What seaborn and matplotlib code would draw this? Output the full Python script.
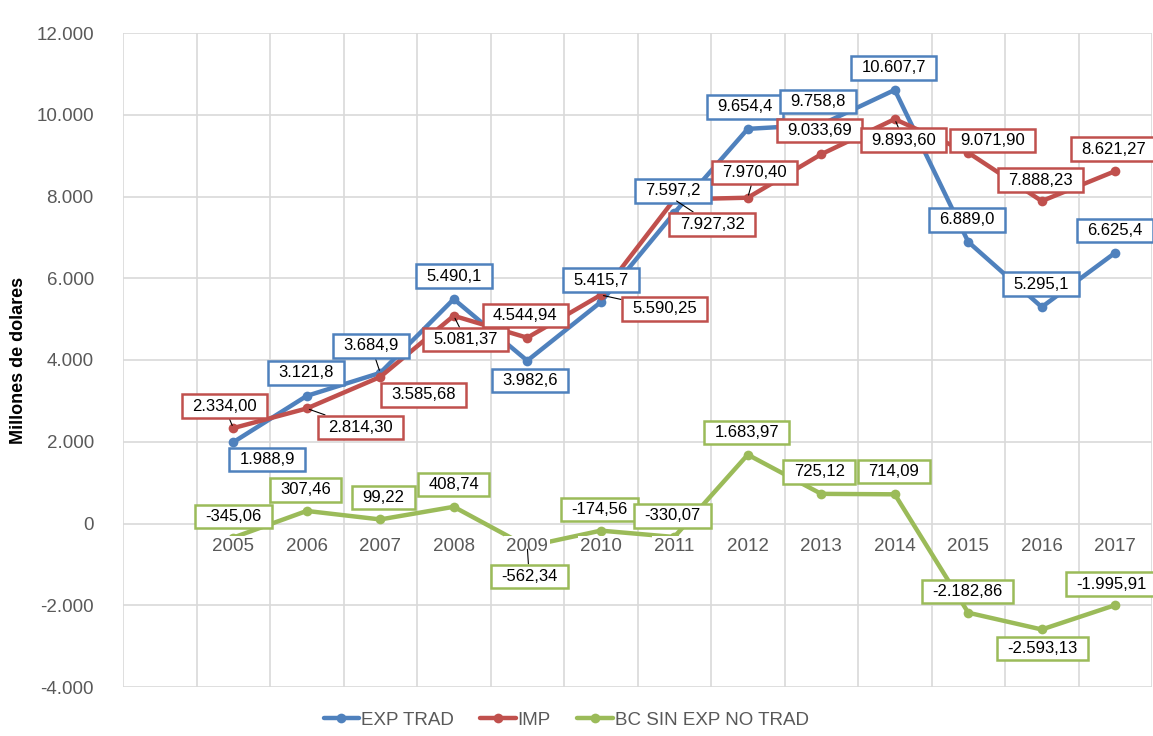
import matplotlib
matplotlib.use("Agg")
import numpy as np
import pandas as pd
import seaborn as sns
import matplotlib.pyplot as plt
from matplotlib.path import Path
from matplotlib.lines import Line2D

# ---------------- data ----------------
years = ['2005', '2006', '2007', '2008', '2009', '2010', '2011',
         '2012', '2013', '2014', '2015', '2016', '2017']
exp_trad = [1988.9, 3121.8, 3684.9, 5490.1, 3982.6, 5415.7, 7597.2,
            9654.4, 9758.8, 10607.7, 6889.0, 5295.1, 6625.4]
imp = [2334.00, 2814.30, 3585.68, 5081.37, 4544.94, 5590.25, 7927.32,
       7970.40, 9033.69, 9893.60, 9071.90, 7888.23, 8621.27]
bc_sin_exp = [-345.06, 307.46, 99.22, 408.74, -562.34, -174.56, -330.07,
              1683.97, 725.12, 714.09, -2182.86, -2593.13, -1995.91]
series_names = ['EXP TRAD', 'IMP', 'BC SIN EXP NO TRAD']
y_ticks = [-4000, -2000, 0, 2000, 4000, 6000, 8000, 10000, 12000]
y_label = 'Millones de dolares'

# ---------------- style ----------------
colors = {'EXP TRAD': '#4F81BD', 'IMP': '#C0504D', 'BC SIN EXP NO TRAD': '#9BBB59'}
decimals = {'EXP TRAD': 1, 'IMP': 2, 'BC SIN EXP NO TRAD': 2}
# label offsets in pixels (dx, dy) from each point
offsets = {
    'EXP TRAD': [(34, -17), (-1, 23), (-9, 27), (0, 23), (3, -20), (0, 22), (-1, 22),
                 (-3, 22), (-3, 23), (-1, 22), (-1, 22), (-1, 23), (0, 22)],
    'IMP': [(-9, 22), (54, -19), (43, -18), (12, -24), (-2, 22), (64, -14), (38, -25),
            (7, 25), (-2, 24), (9, -21), (24, 12), (-1, 21), (-2, 22)],
    'BC SIN EXP NO TRAD': [(0, 21), (-1, 21), (3, 22), (0, 22), (2, -30), (-1, 21), (-2, 21),
                           (-1, 22), (-2, 22), (-1, 23), (-1, 21), (1, -19), (-4, 21)],
}
leaders = {
    'EXP TRAD': [0, 0, 1, 0, 0, 0, 0, 0, 0, 0, 0, 0, 0],
    'IMP': [1, 1, 0, 1, 0, 1, 1, 1, 0, 1, 0, 0, 0],
    'BC SIN EXP NO TRAD': [0, 0, 0, 0, 1, 0, 0, 0, 0, 0, 0, 0, 0],
}

sns.set_style('white')
plt.rcParams['font.family'] = ['Liberation Sans', 'DejaVu Sans']

W, H = 1153, 736
fig = plt.figure(figsize=(W / 100, H / 100), dpi=100)
ax = fig.add_axes([123 / W, (H - 687) / H, (1152 - 123) / W, (687 - 33) / H])

x_pos = np.arange(1, len(years) + 1)
df = pd.DataFrame({'pos': x_pos, 'EXP TRAD': exp_trad, 'IMP': imp,
                   'BC SIN EXP NO TRAD': bc_sin_exp})
long = df.melt(id_vars='pos', var_name='serie', value_name='valor')

sns.lineplot(data=long, x='pos', y='valor', hue='serie', hue_order=series_names,
             palette=colors, marker='o', markersize=7, markeredgewidth=0,
             linewidth=3.2, sort=False, legend=False, ax=ax, zorder=2)

ax.set_xlim(-0.5, len(years) + 0.5)
ax.set_ylim(y_ticks[0], y_ticks[-1])

grid_c = '#D9D9D9'
ax.set_axisbelow(True)
ax.yaxis.grid(True, color=grid_c, linewidth=1.2)
ax.xaxis.grid(False)
ax.vlines(np.arange(-0.5, len(years) + 1), y_ticks[0], y_ticks[-1],
          colors=grid_c, linewidth=1.2, zorder=0.6)

for s in ax.spines.values():
    s.set_visible(False)
ax.spines['bottom'].set_position(('data', 0))

def fmt_num(v, d=0):
    s = f"{v:,.{d}f}"
    return s.replace(',', '#').replace('.', ',').replace('#', '.')

ax.set_yticks(y_ticks)
ax.set_yticklabels([fmt_num(v) for v in y_ticks])
ax.set_xticks(x_pos)
ax.set_xticklabels(years)
ax.tick_params(axis='y', length=0, pad=21, labelsize=13.5, labelcolor='#595959')
ax.tick_params(axis='x', length=0, pad=10.5, labelsize=13.5, labelcolor='#595959')
for lab in ax.get_xticklabels():
    lab.set_bbox(dict(facecolor='white', edgecolor='none', pad=1.5))
ax.xaxis.set_zorder(2.5)

ax.set_xlabel('')
ax.set_ylabel(y_label, fontsize=13, color='black', fontweight='bold')
ax.yaxis.set_label_coords((27 - 123) / (1152 - 123), 0.5)


def excel_box(x0, y0, width, height, mutation_size):
    padx = 0.62 * mutation_size
    pady = 0.25 * mutation_size
    x0 -= padx
    y0 -= pady
    x1 = x0 + width + 2 * padx
    y1 = y0 + height + 2 * pady
    return Path([(x0, y0), (x1, y0), (x1, y1), (x0, y1), (x0, y0)], closed=True)


data = {'EXP TRAD': exp_trad, 'IMP': imp, 'BC SIN EXP NO TRAD': bc_sin_exp}
for name in series_names:
    vals = data[name]
    for i, v in enumerate(vals):
        dx, dy = offsets[name][i]
        kw = {}
        if leaders[name][i]:
            kw['arrowprops'] = dict(arrowstyle='-', color='black', lw=0.8,
                                    shrinkA=0, shrinkB=2)
        ax.annotate(fmt_num(v, decimals[name]), xy=(x_pos[i], v), xytext=(dx, dy),
                    textcoords='offset pixels', ha='center', va='center',
                    fontsize=12, color='black', zorder=5,
                    bbox=dict(boxstyle=excel_box, facecolor='white',
                              edgecolor=colors[name], linewidth=1.8),
                    **kw)

handles = [Line2D([], [], color=colors[n], lw=3.2, marker='o', markersize=7,
                  markeredgewidth=0) for n in series_names]
leg = fig.legend(handles, series_names, loc='center',
                 bbox_to_anchor=(0.491, 1 - 720 / H), ncol=3, frameon=False,
                 fontsize=13.5, handlelength=1.9, handletextpad=0.1,
                 columnspacing=1.4)
for t in leg.get_texts():
    t.set_color('#595959')

fig.savefig('out.png', dpi=100)
